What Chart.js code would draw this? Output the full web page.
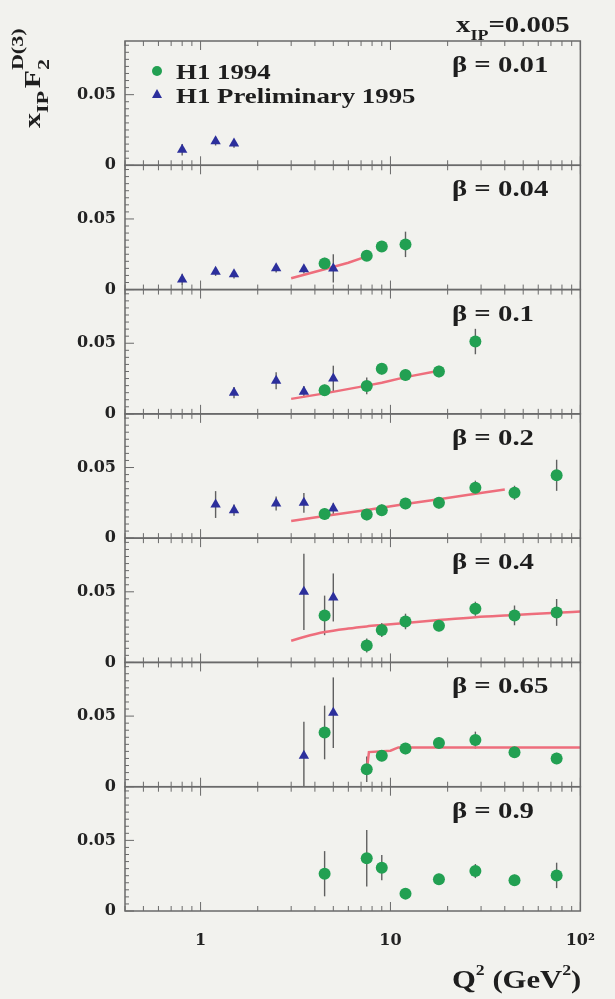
<!DOCTYPE html>
<html lang="en">

<head>
    <meta charset="UTF-8">
    <title>H1 F2 D(3) at xIP = 0.005</title>
    <script src="https://cdn.jsdelivr.net/npm/chart.js@4.4.1/dist/chart.umd.min.js"></script>
    <style>
        body {
            margin: 0;
            background: #f2f2ee;
        }

        canvas {
            display: block;
        }
    </style>
</head>

<body>
    <canvas id="chart" width="615" height="999"></canvas>
    <script>
        // Q2 bins (GeV^2)
        const q2_94 = [4.5, 7.5, 9, 12, 18, 28, 45, 75];
        const q2_95 = [0.8, 1.2, 1.5, 2.5, 3.5, 5.0];
        const betas = ['0.01', '0.04', '0.1', '0.2', '0.4', '0.65', '0.9'];

        // H1 1994, one row per beta panel
        const h94 = [
            [null, null, null, null, null, null, null, null],
            [0.0185, 0.024, 0.0305, 0.032, null, null, null, null],
            [0.0167, 0.0198, 0.0319, 0.0275, 0.030, 0.0512, null, null],
            [0.0171, 0.0167, 0.0198, 0.0245, 0.025, 0.0357, 0.0321, 0.0445],
            [0.0333, 0.012, 0.023, 0.029, 0.026, 0.038, 0.0333, 0.0354],
            [0.0384, 0.0124, 0.022, 0.027, 0.031, 0.033, 0.0244, 0.020],
            [0.0264, 0.0373, 0.0307, 0.0123, 0.0224, 0.0283, 0.0217, 0.0252]
        ];
        const h94err = [
            [0, 0, 0, 0, 0, 0, 0, 0],
            [0.004, 0.003, 0.003, 0.009, 0, 0, 0, 0],
            [0.004, 0.006, 0.004, 0.004, 0.004, 0.009, 0, 0],
            [0.004, 0.004, 0.004, 0.004, 0.004, 0.005, 0.005, 0.011],
            [0.014, 0.005, 0.005, 0.0055, 0.004, 0.005, 0.007, 0.0095],
            [0.019, 0.009, 0.004, 0.004, 0.004, 0.006, 0.004, 0.004],
            [0.016, 0.020, 0.009, 0.003, 0.004, 0.005, 0.004, 0.009]
        ];

        // H1 preliminary 1995
        const h95 = [
            [0.011, 0.017, 0.0155, null, null, null],
            [0.0072, 0.0127, 0.0108, 0.0151, 0.0144, 0.015],
            [null, null, 0.015, 0.0234, 0.0157, 0.0251],
            [null, 0.0238, 0.0198, 0.0245, 0.025, 0.021],
            [null, null, null, null, 0.050, 0.046],
            [null, null, null, null, 0.022, 0.0524],
            [null, null, null, null, null, null]
        ];
        const h95err = [
            [0.004, 0.003, 0.003, 0, 0, 0],
            [0.004, 0.003, 0.003, 0.003, 0.003, 0.010],
            [0, 0, 0.004, 0.006, 0.004, 0.009],
            [0, 0.0095, 0.004, 0.005, 0.007, 0.004],
            [0, 0, 0, 0, 0.027, 0.017],
            [0, 0, 0, 0, 0.024, 0.025],
            [0, 0, 0, 0, 0, 0]
        ];

        // QCD fit curves
        const fitQ2 = [
            [],
            [3, 4.5, 6, 7.5],
            [3, 4.5, 7.5, 9, 12, 18],
            [3, 4.5, 7.5, 12, 18, 28, 40],
            [3, 3.5, 4.5, 6, 7.5, 9, 12, 18, 28, 45, 75, 100],
            [7.5, 7.7, 10, 11, 100],
            []
        ];
        const fitVal = [
            [],
            [0.008, 0.0144, 0.019, 0.0235],
            [0.0106, 0.0145, 0.020, 0.022, 0.026, 0.0305],
            [0.0121, 0.0156, 0.020, 0.0241, 0.0276, 0.0314, 0.0345],
            [0.0154, 0.018, 0.0215, 0.024, 0.0255, 0.0265, 0.028, 0.030, 0.032, 0.0335, 0.0352, 0.036],
            [0.011, 0.0245, 0.0255, 0.0278, 0.0278],
            []
        ];

        const GREEN = '#22a052';
        const BLUE = '#2c2f9c';
        const RED = '#ee6e7c';
        const FRAME = '#6a6a6a';
        const SERIF = '"Liberation Serif", "Times New Roman", serif';

        function points(qs, vals, errs) {
            const out = [];
            qs.forEach((q, i) => {
                if (vals[i] !== null && vals[i] !== undefined) out.push({ x: q, y: vals[i], e: errs ? errs[i] : 0 });
            });
            return out;
        }

        const datasets = [];
        const scales = {
            x: {
                type: 'logarithmic',
                position: 'bottom',
                min: 0.4,
                max: 100,
                grid: { display: false, drawTicks: false },
                border: { display: false },
                afterFit: s => { s.height = 88; },
                ticks: {
                    autoSkip: false,
                    maxRotation: 0,
                    padding: 20,
                    color: '#222',
                    font: { family: '"DejaVu Serif"', weight: 'bold', size: 16 },
                    callback: v => v === 1 ? '1' : v === 10 ? '10' : v === 100 ? '10²' : ''
                }
            }
        };

        betas.forEach((b, k) => {
            const id = 'y' + k;
            scales[id] = {
                type: 'linear',
                position: 'left',
                stack: 'panels',
                weight: 7 - k,
                min: 0,
                max: 0.088,
                grid: { display: false, drawTicks: false },
                border: { display: false },
                afterFit: s => { s.width = 125; },
                ticks: {
                    stepSize: 0.005,
                    autoSkip: false,
                    padding: 9,
                    color: '#222',
                    font: { family: '"DejaVu Serif"', weight: 'bold', size: 16 },
                    callback: v => Math.abs(v) < 1e-9 ? '0' : Math.abs(v - 0.05) < 1e-9 ? '0.05' : ''
                }
            };
            datasets.push({
                label: 'H1 1994',
                data: points(q2_94, h94[k], h94err[k]),
                yAxisID: id,
                pointStyle: 'circle',
                pointRadius: 6,
                backgroundColor: GREEN,
                borderColor: GREEN,
                borderWidth: 0,
                order: 0
            });
            datasets.push({
                label: 'H1 Preliminary 1995',
                data: points(q2_95, h95[k], h95err[k]),
                yAxisID: id,
                pointStyle: 'triangle',
                pointRadius: 6,
                backgroundColor: BLUE,
                borderColor: BLUE,
                borderWidth: 0,
                order: 1
            });
            datasets.push({
                label: 'fit',
                data: points(fitQ2[k], fitVal[k]),
                yAxisID: id,
                showLine: true,
                pointRadius: 0,
                borderColor: RED,
                borderWidth: 2.5,
                cubicInterpolationMode: k === 4 ? 'monotone' : 'default',
                tension: 0,
                order: 2
            });
        });

        // stretched serif text helper (the original figure is a bit wide)
        function stext(ctx, str, x, y, size, sx) {
            ctx.save();
            ctx.font = 'bold ' + size + 'px ' + SERIF;
            ctx.translate(x, y);
            ctx.scale(sx, 1);
            ctx.fillText(str, 0, 0);
            const w = ctx.measureText(str).width * sx;
            ctx.restore();
            return w;
        }

        const panelPlugin = {
            id: 'panels',
            beforeDatasetsDraw(chart) {
                const { ctx, scales } = chart;
                const xs = scales.x;
                ctx.save();
                ctx.lineWidth = 1.4;
                chart.data.datasets.forEach(ds => {
                    const ys = scales[ds.yAxisID];
                    ds.data.forEach(p => {
                        if (!p.e) return;
                        const px = xs.getPixelForValue(p.x);
                        const lo = Math.max(0, p.y - p.e);
                        ctx.strokeStyle = 'rgba(70,70,70,0.85)';
                        ctx.beginPath();
                        ctx.moveTo(px, ys.getPixelForValue(lo));
                        ctx.lineTo(px, ys.getPixelForValue(p.y + p.e));
                        ctx.stroke();
                    });
                });
                ctx.restore();
            },
            afterDraw(chart) {
                const { ctx, chartArea, scales } = chart;
                const xs = scales.x;
                ctx.save();
                ctx.strokeStyle = FRAME;
                ctx.lineWidth = 1.5;

                const xticks = [];
                [0.1, 1, 10].forEach(d => {
                    for (let m = 1; m < 10; m++) {
                        const v = d * m;
                        if (v >= 0.4 && v <= 100) xticks.push({ v, major: m === 1 });
                    }
                });
                xticks.push({ v: 100, major: true });

                betas.forEach((b, k) => {
                    const ys = scales['y' + k];
                    // panel frame
                    ctx.lineWidth = 1.5;
                    ctx.strokeRect(chartArea.left, ys.top, chartArea.right - chartArea.left, ys.bottom - ys.top);
                    // x ticks at top and bottom of the panel
                    ctx.lineWidth = 1;
                    xticks.forEach(t => {
                        const px = xs.getPixelForValue(t.v);
                        const len = t.major ? 9 : 5;
                        ctx.beginPath();
                        ctx.moveTo(px, ys.bottom);
                        ctx.lineTo(px, ys.bottom - len);
                        ctx.moveTo(px, ys.top);
                        ctx.lineTo(px, ys.top + len);
                        ctx.stroke();
                    });
                    // y ticks
                    for (let i = 0; i <= 17; i++) {
                        const v = i * 0.005;
                        const py = ys.getPixelForValue(v);
                        const len = (i % 10 === 0) ? 9 : 4;
                        ctx.beginPath();
                        ctx.moveTo(chartArea.left, py);
                        ctx.lineTo(chartArea.left + len, py);
                        ctx.stroke();
                    }
                    // beta label
                    ctx.fillStyle = '#1e1e1e';
                    stext(ctx, 'β = ' + b, 452, ys.top + 31, 24, 1.2);
                });

                ctx.fillStyle = '#1e1e1e';
                // legend
                ctx.fillStyle = GREEN;
                ctx.beginPath();
                ctx.arc(157, 71, 5, 0, Math.PI * 2);
                ctx.fill();
                ctx.fillStyle = BLUE;
                ctx.beginPath();
                ctx.moveTo(157, 89);
                ctx.lineTo(162, 98);
                ctx.lineTo(152, 98);
                ctx.closePath();
                ctx.fill();
                ctx.fillStyle = '#1e1e1e';
                stext(ctx, 'H1 1994', 176, 79, 22, 1.22);
                stext(ctx, 'H1 Preliminary 1995', 176, 103, 22, 1.22);

                // x_IP = 0.005
                let cx = 456;
                cx += stext(ctx, 'x', cx, 32, 24, 1.2);
                cx += stext(ctx, 'IP', cx, 40, 15, 1.2);
                stext(ctx, '=0.005', cx, 32, 24, 1.2);

                // x axis title
                cx = 452;
                cx += stext(ctx, 'Q', cx, 988, 26, 1.18);
                cx += stext(ctx, '2', cx, 975, 15, 1.18);
                cx += stext(ctx, ' (GeV', cx, 988, 26, 1.18);
                cx += stext(ctx, '2', cx, 975, 15, 1.18);
                stext(ctx, ')', cx, 988, 26, 1.18);

                // y axis title, rotated
                ctx.save();
                ctx.translate(40, 128);
                ctx.rotate(-Math.PI / 2);
                ctx.scale(1.3, 1);
                const big = 'bold 23px ' + SERIF, small = 'bold 17px ' + SERIF;
                let tx = 0;
                ctx.font = big; ctx.fillText('x', tx, 0); tx += ctx.measureText('x').width;
                ctx.font = small; ctx.fillText('IP', tx, 8); tx += ctx.measureText('IP').width + 2;
                ctx.font = big; ctx.fillText('F', tx, 0); tx += ctx.measureText('F').width;
                ctx.font = small; ctx.fillText('2', tx, 9); ctx.fillText('D(3)', tx, -17);
                ctx.restore();

                ctx.restore();
            }
        };

        const ctx = document.getElementById('chart').getContext('2d');
        const myChart = new Chart(ctx, {
            type: 'scatter',
            data: { datasets: datasets },
            options: {
                responsive: false,
                animation: false,
                layout: { padding: { top: 41, right: 32, left: 0, bottom: 0 } },
                plugins: {
                    legend: { display: false },
                    tooltip: { enabled: false }
                },
                scales: scales
            },
            plugins: [panelPlugin]
        });
    </script>
</body>

</html>
